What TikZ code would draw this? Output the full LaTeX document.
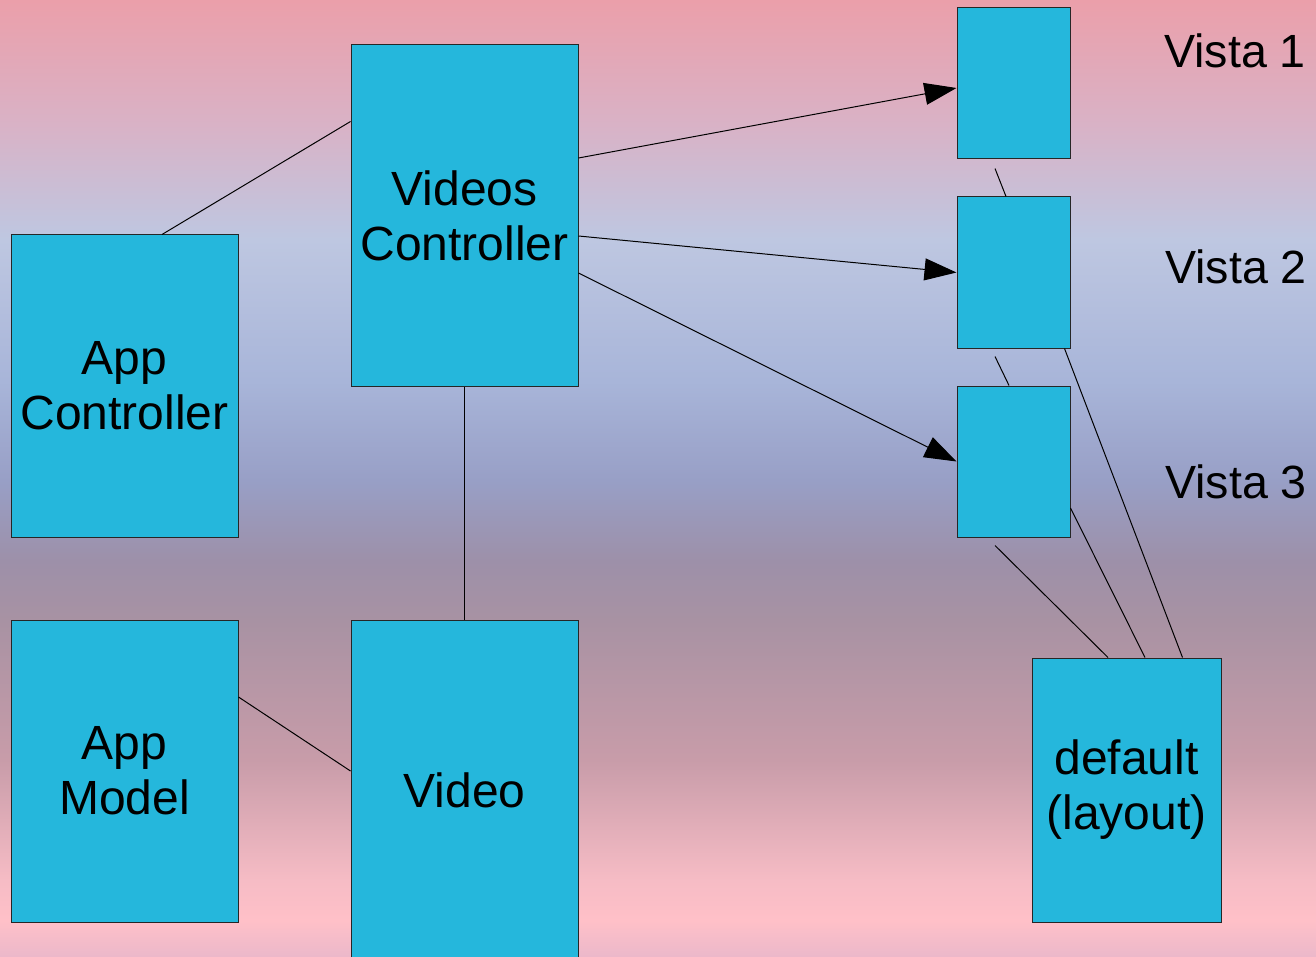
\documentclass[tikz,border=0pt]{standalone}
\usepackage{fontspec}
\setmainfont{Liberation Sans}
\usetikzlibrary{calc,arrows.meta}
\definecolor{boxfill}{HTML}{25B7DC}
\definecolor{bgA}{HTML}{EBB8CA}
\definecolor{bgB}{HTML}{FFC0C8}
\definecolor{bgC}{HTML}{F6BCC5}
\definecolor{bgD}{HTML}{C89CA9}
\definecolor{bgE}{HTML}{A892A3}
\definecolor{bgF}{HTML}{9D90A9}
\definecolor{bgG}{HTML}{989FC6}
\definecolor{bgH}{HTML}{A8B5D9}
\definecolor{bgI}{HTML}{BEC7E1}
\definecolor{bgJ}{HTML}{D9B2C6}
\definecolor{bgK}{HTML}{EB9FAA}
\pgfdeclareverticalshading{backfade}{100bp}{color(0bp)=(bgA); color(25bp)=(bgA);
  color(26.9bp)=(bgB); color(29bp)=(bgC); color(35.3bp)=(bgD); color(42.6bp)=(bgE);
  color(45.7bp)=(bgF); color(49.9bp)=(bgG); color(55.1bp)=(bgH); color(62.5bp)=(bgI);
  color(68.5bp)=(bgJ); color(75bp)=(bgK); color(100bp)=(bgK)}

\begin{document}
\begin{tikzpicture}[x=0.5pt,y=-0.5pt,
  box/.style={draw=black!85,line width=0.5pt,fill=boxfill,inner sep=0pt,align=center,font=\fontsize{24}{27.5}\selectfont},
  vista/.style={box,minimum width=56.5pt,minimum height=75.5pt},
  tag/.style={inner sep=0pt,font=\fontsize{23.3}{27.5}\selectfont},
  link/.style={line width=0.5pt},
  call/.style={link,-{Triangle[length=16pt,width=11pt]}}]
\xdef\bw{113.5pt}
\xdef\bh{151pt}
\useasboundingbox (0,0) rectangle (1316,957);
\shade[shading=backfade] (0,0) rectangle (1316,957);
\node[box,minimum width=\bw,minimum height=\bh] (appc) at (124.5,386) {App\\Controller};
\node[box,minimum width=\bw,minimum height=\bh] (appm) at (124.5,771) {App\\Model};
\node[box,minimum width=\bw,minimum height=170.5pt] (vc) at (464.5,215.5) {Videos\\Controller};
\node[box,minimum width=\bw,minimum height=170pt] (video) at (464.5,790) {Video};
\node[vista] (v1) at (1013.5,83.5) {};
\node[vista] (v2) at (1013.5,272.5) {};
\node[vista] (v3) at (1013.5,461.5) {};
\node[box,minimum width=94.5pt,minimum height=132pt] (dflt) at (1126.5,790) {default\\(layout)};
\node[tag] (t1) at (1235,51) {Vista 1};
\node[tag] (t2) at (1236,267) {Vista 2};
\node[tag] (t3) at (1236,482) {Vista 3};
\draw[link] ($(appc.north)+(37.5,0)$) -- ($(vc.north west)+(0,77)$);
\draw[link] (vc.south) -- (video.north);
\draw[link] ($(appm.east)+(0,-74)$) -- ($(video.west)+(0,-19)$);
\draw[call] ($(vc.east)+(0,-57.5)$) -- ($(v1.west)+(0,4.5)$);
\draw[call] ($(vc.east)+(0,20.5)$) -- (v2.west);
\draw[call] ($(vc.east)+(0,57.5)$) -- (v3.west);
\draw[link] ($(v1.south)+(-18.5,9)$) -- ($(v2.north)+(-7.5,0)$);
\draw[link] ($(v2.south)+(-18.5,8)$) -- ($(v3.north)+(-4.5,0)$);
\draw[link] ($(v3.south)+(-18.5,8)$) -- ($(dflt.north)+(-18.5,0)$);
\draw[link] ($(v3.east)+(0,46.5)$) -- ($(dflt.north)+(18.5,0)$);
\draw[link] ($(v2.south east)+(-6,0)$) -- ($(dflt.north)+(56,0)$);
\end{tikzpicture}
\end{document}
